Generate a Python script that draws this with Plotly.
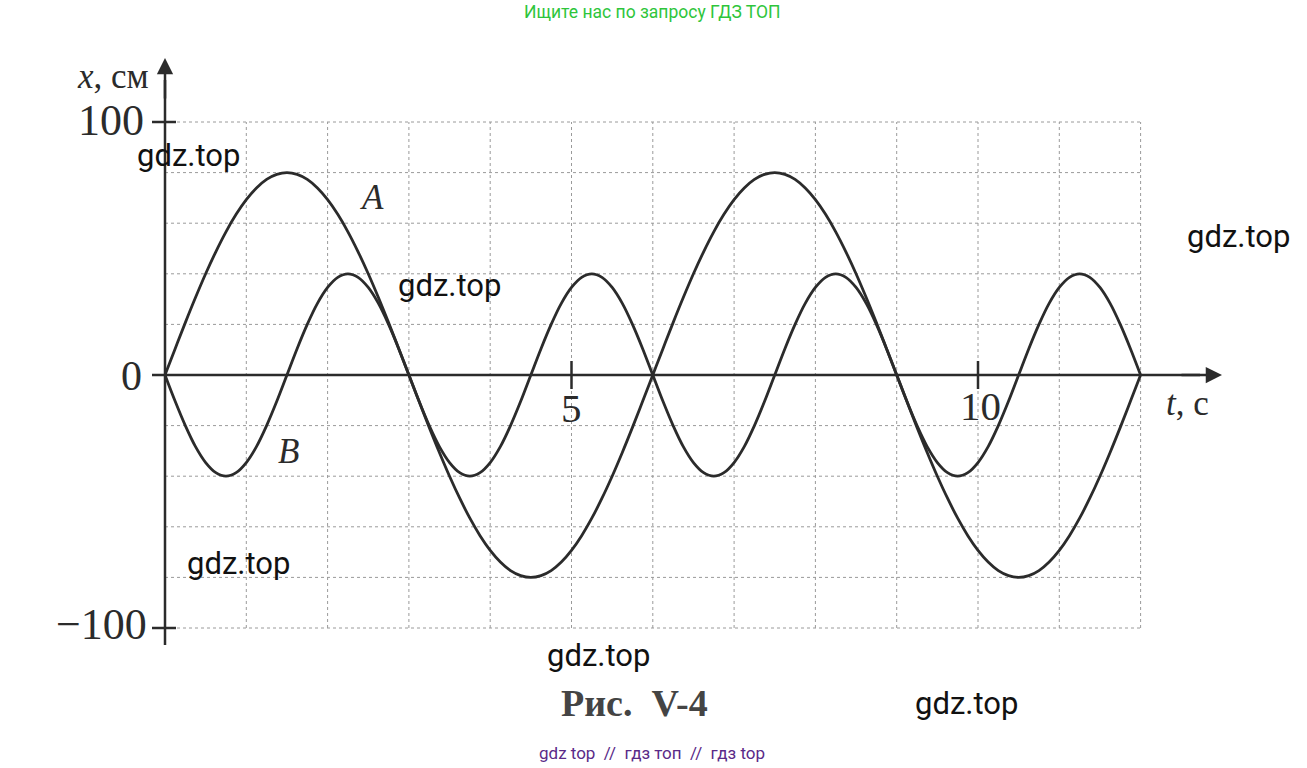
import plotly.graph_objects as go

# ---- data ----
t_values = [i * 0.125 for i in range(97)]  # 0 .. 12 s, step 0.125 s
x_A = [0, 10.4, 20.7, 30.6, 40, 48.7, 56.6, 63.5, 69.3, 73.9, 77.3, 79.3,
       80, 79.3, 77.3, 73.9, 69.3, 63.5, 56.6, 48.7, 40, 30.6, 20.7, 10.4,
       0, -10.4, -20.7, -30.6, -40, -48.7, -56.6, -63.5, -69.3, -73.9, -77.3, -79.3,
       -80, -79.3, -77.3, -73.9, -69.3, -63.5, -56.6, -48.7, -40, -30.6, -20.7, -10.4,
       0, 10.4, 20.7, 30.6, 40, 48.7, 56.6, 63.5, 69.3, 73.9, 77.3, 79.3,
       80, 79.3, 77.3, 73.9, 69.3, 63.5, 56.6, 48.7, 40, 30.6, 20.7, 10.4,
       0, -10.4, -20.7, -30.6, -40, -48.7, -56.6, -63.5, -69.3, -73.9, -77.3, -79.3,
       -80, -79.3, -77.3, -73.9, -69.3, -63.5, -56.6, -48.7, -40, -30.6, -20.7, -10.4,
       0]
x_B = [0, -10.4, -20, -28.3, -34.6, -38.6, -40, -38.6, -34.6, -28.3, -20, -10.4,
       0, 10.4, 20, 28.3, 34.6, 38.6, 40, 38.6, 34.6, 28.3, 20, 10.4,
       0, -10.4, -20, -28.3, -34.6, -38.6, -40, -38.6, -34.6, -28.3, -20, -10.4,
       0, 10.4, 20, 28.3, 34.6, 38.6, 40, 38.6, 34.6, 28.3, 20, 10.4,
       0, -10.4, -20, -28.3, -34.6, -38.6, -40, -38.6, -34.6, -28.3, -20, -10.4,
       0, 10.4, 20, 28.3, 34.6, 38.6, 40, 38.6, 34.6, 28.3, 20, 10.4,
       0, -10.4, -20, -28.3, -34.6, -38.6, -40, -38.6, -34.6, -28.3, -20, -10.4,
       0, 10.4, 20, 28.3, 34.6, 38.6, 40, 38.6, 34.6, 28.3, 20, 10.4,
       0]
grid_t = [1, 2, 3, 4, 5, 6, 7, 8, 9, 10, 11, 12]
grid_x = [-100, -80, -60, -40, -20, 20, 40, 60, 80, 100]
t_ticks = [5, 10]
t_tick_labels = ["5", "10"]
x_ticks = [100, 0, -100]
x_tick_labels = ["100", "0", "\u2212100"]

W, H = 1307, 768
X0, PXS = 165.0, 81.3      # pixel of t=0, pixels per second
Y0, PYU = 375.0, 2.53      # pixel of x=0, pixels per cm


def dx(px):
    return (px - X0) / PXS


def dy(py):
    return (Y0 - py) / PYU


fig = go.Figure()

INK = "#2b2b2b"
GRID = "#9a9a9a"

# grid
for t in grid_t:
    fig.add_shape(type="line", x0=t, x1=t, y0=-100, y1=100,
                  line=dict(color=GRID, width=1, dash="dot"), layer="below")
for v in grid_x:
    fig.add_shape(type="line", x0=0, x1=12, y0=v, y1=v,
                  line=dict(color=GRID, width=1, dash="dot"), layer="below")

# axes
fig.add_shape(type="line", x0=dx(152), x1=dx(1200), y0=0, y1=0,
              line=dict(color=INK, width=2.5))
fig.add_shape(type="line", x0=0, x1=0, y0=dy(645), y1=dy(80),
              line=dict(color=INK, width=2.5))
# arrow heads
fig.add_annotation(x=dx(1222), y=0, ax=dx(1180), ay=0, xref="x", yref="y",
                   axref="x", ayref="y", showarrow=True, arrowhead=2,
                   arrowsize=1.3, arrowwidth=2.5, arrowcolor=INK, text="")
fig.add_annotation(x=0, y=dy(58), ax=0, ay=dy(100), xref="x", yref="y",
                   axref="x", ayref="y", showarrow=True, arrowhead=2,
                   arrowsize=1.3, arrowwidth=2.5, arrowcolor=INK, text="")

# ticks
for v in [100, -100]:
    fig.add_shape(type="line", x0=dx(152), x1=dx(176), y0=v, y1=v,
                  line=dict(color=INK, width=2.5))
for t in t_ticks:
    fig.add_shape(type="line", x0=t, x1=t, y0=dy(361), y1=dy(389),
                  line=dict(color=INK, width=2.5))

# curves
fig.add_trace(go.Scatter(x=t_values, y=x_A, mode="lines", name="A",
                         line=dict(color=INK, width=2.8, shape="spline")))
fig.add_trace(go.Scatter(x=t_values, y=x_B, mode="lines", name="B",
                         line=dict(color=INK, width=2.8, shape="spline")))

SERIF = "Liberation Serif"


def label(text, px, py, size, family=SERIF, color=INK, xanchor="center"):
    fig.add_annotation(x=dx(px), y=dy(py), xref="x", yref="y", text=text,
                       showarrow=False, xanchor=xanchor, yanchor="middle",
                       font=dict(family=family, size=size, color=color))


# tick labels
label(x_tick_labels[0], 146, 120, 44, xanchor="right")
label(x_tick_labels[1], 131, 376, 42)
label(x_tick_labels[2], 149, 624, 44, xanchor="right")
label(t_tick_labels[0], 571, 408, 41)
label(t_tick_labels[1], 980, 406, 41)
label("<i>x</i>, см", 113, 76, 35)
label("<i>t</i>, с", 1187, 403, 35)
label("<i>A</i>", 372, 197, 35)
label("<i>B</i>", 288, 451, 35)
label("<b>Рис.  V-4</b>", 634, 703, 38, color="#444444")

# watermarks
for (px, py) in [(188, 155), (449, 285), (1238, 236), (238, 563),
                 (598, 655), (966, 703)]:
    label("gdz.top", px, py, 31, family="Roboto", color="#111111")

label("Ищите нас по запросу ГДЗ ТОП", 652, 12, 17.5, family="Roboto",
      color="#2ec53b")
label("gdz top  //  гдз топ  //  гдз top", 652, 753, 17, family="Roboto",
      color="#5a2a88")

fig.update_layout(
    width=W, height=H,
    margin=dict(l=0, r=0, t=0, b=0),
    paper_bgcolor="white", plot_bgcolor="white",
    showlegend=False,
    xaxis=dict(range=[dx(0), dx(W)], visible=False, fixedrange=True),
    yaxis=dict(range=[dy(H), dy(0)], visible=False, fixedrange=True),
)

fig.write_html("out.html",
               config={"displayModeBar": False},
               post_script="document.body.style.margin='0';"
                           "document.body.style.overflow='hidden';")
